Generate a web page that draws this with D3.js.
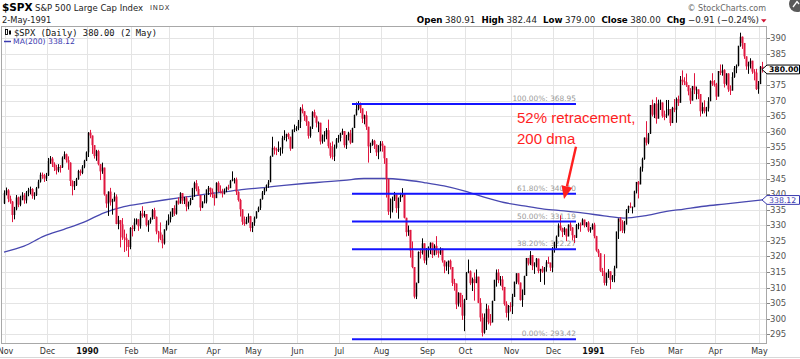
<!DOCTYPE html>
<html><head><meta charset="utf-8">
<script src="https://cdn.jsdelivr.net/npm/d3@7"></script>
<style>body{margin:0;background:#fff}svg{display:block}</style>
</head><body>
<svg id="c" width="800" height="359"></svg>
<script>
// ---------------- DATA ----------------
// Market holidays (non-trading weekdays) in the span
const holidays = ["1989-11-23","1989-12-25","1990-01-01","1990-02-19","1990-04-13","1990-05-28","1990-07-04","1990-09-03","1990-11-22","1990-12-25","1991-01-01","1991-02-18","1991-03-29"];
const firstDay = "1989-10-31", lastDay = "1991-05-02";
const monthNames = ["Jan","Feb","Mar","Apr","May","Jun","Jul","Aug","Sep","Oct","Nov","Dec"];

const opens = [337.0,
340.4,341.2,338.5,337.6,333.3,335.1,338.9,336.6,339.1,339.6,338.0,340.5,341.3,341.6,339.4,339.6,341.9,344.0,346.2,346.0,345.0,
346.0,350.6,351.4,349.6,348.6,347.6,348.7,348.6,351.7,352.8,350.9,350.1,344.2,342.5,342.8,344.8,347.4,346.8,348.8,350.7,
353.4,359.7,358.8,355.7,352.2,353.8,349.6,347.3,348.5,339.9,337.0,340.8,337.4,338.2,339.2,330.4,331.6,330.3,326.1,325.8,325.2,323.0,
329.1,328.8,330.9,331.9,329.7,333.8,333.0,333.6,330.1,331.0,332.0,334.9,332.7,328.0,327.7,325.7,324.2,328.7,330.3,
331.9,332.7,335.5,333.7,337.9,337.0,340.3,337.9,338.7,336.0,336.9,338.1,341.9,343.5,341.6,339.7,335.7,337.2,337.6,341.5,342.0,340.8,
339.9,338.7,343.6,341.1,340.7,340.1,341.4,342.1,341.9,344.3,344.7,344.7,340.7,338.1,335.1,331.1,330.4,332.0,332.9,329.1,
330.8,332.3,334.5,335.6,338.4,340.5,342.0,342.9,343.8,352.0,354.8,354.3,354.0,354.5,354.6,358.0,358.4,359.3,358.4,354.6,360.7,360.9,
361.2,363.2,367.4,366.6,365.0,363.2,358.7,361.6,366.3,364.9,362.9,362.9,356.9,358.5,359.1,360.5,355.4,352.3,352.1,355.1,357.6,
358.0,359.5,360.2,355.7,358.4,359.5,356.5,361.2,365.4,367.3,369.0,367.5,364.2,365.3,361.6,355.3,355.8,357.1,355.9,353.4,355.6,
356.2,355.5,351.5,344.9,334.4,334.8,338.4,339.9,335.5,338.8,339.4,340.1,332.4,327.8,328.5,321.9,316.6,307.1,311.5,321.4,321.3,324.2,318.7,
322.6,323.1,324.4,320.5,323.4,321.6,321.0,322.5,318.7,316.8,317.8,318.6,316.6,311.5,311.3,304.6,308.3,305.1,301.0,
306.1,314.9,315.2,311.4,312.7,311.5,313.5,305.1,300.4,295.5,300.0,303.2,298.9,298.8,305.7,312.5,314.8,312.4,312.6,310.2,304.7,301.9,304.1,
304.0,307.0,311.9,314.6,311.6,306.0,307.6,313.7,319.5,317.7,320.4,317.0,317.1,319.3,315.3,316.0,315.1,316.5,318.1,318.0,316.4,
322.2,324.1,326.4,329.9,329.1,327.8,328.9,326.4,330.2,329.3,326.8,326.0,330.1,330.2,330.1,331.8,329.9,330.9,328.3,328.7,
330.2,326.5,321.9,321.0,315.4,314.9,311.5,314.5,315.2,312.5,313.7,316.2,328.0,332.2,331.1,328.3,330.2,334.8,336.1,335.8,335.8,340.9,
343.9,343.1,348.3,351.3,358.1,356.5,359.4,368.6,365.5,369.0,364.2,369.1,369.4,365.1,365.0,365.7,367.3,362.8,367.7,
367.1,370.5,369.3,376.7,376.2,375.9,375.0,373.0,370.0,374.6,373.5,373.6,372.1,366.6,367.9,366.6,367.5,369.8,376.3,375.4,
375.2,371.3,379.5,378.9,379.8,375.4,378.7,373.6,373.2,377.6,380.4,381.2,387.6,390.5,388.5,384.2,381.0,381.8,382.8,379.3,379.0,373.7,
375.3,380.91];

const highs = [341.2,
342.1,341.6,339.5,337.8,335.9,339.7,339.2,339.5,340.6,340.3,341.0,342.0,342.4,341.9,340.6,342.3,344.6,346.9,346.9,346.5,346.8,
351.6,352.2,351.9,350.2,349.4,349.6,349.3,352.1,353.7,353.0,352.1,350.2,344.4,344.2,345.2,347.8,347.9,349.3,351.0,353.7,
359.9,360.6,358.8,355.7,354.2,354.2,349.6,350.1,348.5,339.9,340.9,342.0,338.5,340.5,339.9,333.0,331.7,332.3,328.6,327.3,325.3,329.4,
330.0,332.2,332.2,331.9,334.6,336.1,334.6,333.6,331.6,332.5,335.2,335.6,332.8,328.2,330.9,327.0,328.7,331.5,333.5,
334.4,335.5,336.4,337.9,338.9,340.6,340.3,339.1,339.3,337.6,338.8,342.0,344.0,344.5,342.5,339.7,337.7,339.7,341.5,342.6,342.1,341.8,
339.9,343.8,344.1,342.8,341.7,341.8,342.4,343.0,344.5,347.3,345.2,345.3,340.9,338.5,335.1,332.8,332.7,333.8,333.0,331.0,
332.8,334.5,336.0,338.5,341.0,342.0,343.1,344.5,352.3,358.4,355.3,354.9,356.9,355.0,358.7,360.5,359.4,359.7,358.4,360.7,362.3,361.8,
363.8,367.9,368.8,366.6,365.3,363.4,361.7,366.6,367.1,365.2,363.3,362.9,359.1,360.2,361.2,363.9,356.5,356.9,355.9,358.0,359.0,
359.7,361.0,360.2,359.0,360.0,360.6,361.3,365.5,369.4,369.8,369.4,367.5,365.5,366.6,361.6,356.5,357.6,357.4,355.9,355.7,357.0,
357.0,355.5,351.5,344.9,338.6,339.2,340.7,339.9,338.9,340.4,341.9,340.1,332.4,329.9,328.5,324.8,316.6,311.6,321.6,322.5,325.8,324.2,322.7,
323.2,324.5,324.4,323.9,326.5,322.0,322.9,322.5,318.7,318.3,318.7,319.0,316.6,312.8,311.3,308.5,308.3,307.6,306.4,
315.0,319.0,315.5,313.2,314.8,315.8,313.5,306.6,301.7,301.7,304.8,304.3,301.5,305.8,312.5,315.8,315.9,313.7,313.7,310.2,305.6,304.4,305.3,
308.0,311.9,314.6,314.6,311.6,309.4,313.8,319.5,319.5,321.7,320.4,318.1,319.5,319.3,316.0,316.9,316.6,318.8,319.9,318.0,323.0,
324.7,326.7,330.6,333.2,329.2,329.4,328.9,330.3,331.0,329.4,326.9,330.4,330.8,330.9,332.2,331.8,331.0,331.3,329.4,330.6,
330.8,326.6,322.4,321.0,316.3,320.7,314.8,315.9,315.2,314.0,317.0,328.0,332.2,332.6,331.6,331.4,335.2,336.3,337.3,336.0,341.1,343.9,
344.2,348.8,351.7,358.2,363.4,359.6,368.6,370.3,369.2,371.1,370.3,370.3,369.4,366.8,370.2,370.2,367.3,368.0,370.5,
371.0,371.6,377.9,379.7,377.5,378.7,375.0,374.0,374.7,378.8,374.5,373.6,372.1,369.4,370.1,368.0,371.1,376.5,378.8,376.6,
375.7,379.5,381.6,381.6,380.1,378.8,378.8,374.9,379.1,381.1,381.6,387.6,391.8,390.6,388.5,384.2,382.5,383.6,382.8,380.1,380.2,376.3,
381.1,382.44];

const lows = [336.8,
339.6,337.4,336.9,331.0,331.9,334.8,335.8,336.1,338.0,336.9,337.0,339.3,339.9,338.5,338.2,339.4,341.8,343.7,344.9,343.9,344.2,
345.8,349.7,348.7,347.4,346.3,347.0,346.9,348.4,351.2,350.1,347.8,342.6,339.6,341.3,342.6,344.6,345.9,346.4,348.3,350.6,
351.9,357.9,352.9,351.4,350.7,349.2,344.5,346.5,339.5,335.6,333.0,336.3,333.4,337.6,330.3,328.7,322.9,325.3,321.4,321.8,319.8,322.3,
326.4,328.1,330.2,328.2,328.9,332.4,332.5,329.6,327.9,330.5,331.8,332.0,327.1,324.5,325.2,322.6,323.8,328.3,330.0,
330.9,332.7,333.0,333.4,336.6,336.9,336.8,336.8,334.5,335.1,336.4,338.1,339.1,340.9,339.6,334.6,335.5,337.0,337.0,339.7,339.1,338.8,
336.3,338.7,340.6,340.2,338.9,339.9,340.6,341.3,341.9,344.1,343.4,339.7,337.6,332.8,330.1,329.8,330.3,330.8,328.0,327.8,
329.8,332.1,334.2,334.9,338.2,339.7,340.9,342.0,343.8,352.0,352.7,352.5,353.5,352.3,353.0,357.3,356.9,357.6,353.9,354.6,359.9,360.2,
360.5,361.2,365.9,363.5,361.9,357.8,358.1,360.9,364.5,361.4,359.9,355.9,356.2,356.8,357.6,354.7,351.5,351.1,350.6,354.6,356.5,
356.9,359.0,354.9,354.5,357.2,356.0,356.5,361.2,365.2,366.9,366.0,362.8,362.4,360.6,350.1,353.2,355.5,354.5,352.2,351.2,353.7,
353.6,349.7,338.9,333.3,332.2,334.1,337.8,334.0,332.1,337.5,339.0,332.2,326.4,326.6,319.6,316.2,306.5,306.3,311.4,319.3,320.6,317.8,317.3,
319.6,320.7,319.5,320.3,320.5,319.6,320.5,318.0,314.6,315.4,314.3,315.8,310.5,309.0,303.1,303.9,303.7,299.6,296.0,
306.0,314.6,310.8,308.9,305.8,311.4,305.0,299.1,294.3,295.2,296.4,298.2,297.8,298.8,305.7,310.3,311.4,310.6,309.1,304.2,300.4,299.4,302.3,
301.5,307.0,311.1,311.0,305.8,303.8,307.6,313.7,317.1,317.2,315.6,314.4,316.5,314.6,311.8,314.7,310.9,315.1,317.6,315.3,314.9,
321.2,322.6,326.3,328.3,326.2,326.9,324.9,326.4,328.2,325.2,324.3,325.9,328.7,327.9,330.0,329.3,329.4,327.8,327.6,328.6,
325.8,321.5,319.8,315.0,313.7,310.7,310.6,313.1,309.5,311.8,311.7,316.2,325.6,328.1,327.5,327.4,330.2,333.9,335.5,333.8,335.8,340.2,
338.6,343.1,347.2,351.0,355.6,356.0,359.3,364.9,364.4,362.6,364.2,367.0,364.5,363.7,364.4,365.2,361.9,362.8,366.3,
362.9,368.3,369.3,375.0,375.0,374.4,371.7,368.9,370.0,372.1,370.4,370.5,364.9,365.8,365.9,364.9,366.5,369.8,374.7,374.5,
370.2,371.3,378.2,378.0,374.2,374.9,372.8,371.8,373.2,377.3,378.8,381.0,387.3,386.6,383.4,379.9,378.6,380.3,378.6,376.5,373.4,372.2,
375.3,379.00];

const closes = [340.4,
341.2,338.5,337.6,333.3,335.1,338.9,336.6,339.1,339.6,338.0,340.5,341.3,341.6,339.4,339.6,341.9,344.0,346.2,346.0,345.0,346.0,
350.6,351.4,349.6,348.6,347.6,348.7,348.6,351.7,352.8,350.9,350.1,344.2,342.5,342.8,344.8,347.4,346.8,348.8,350.7,353.4,
359.7,358.8,355.7,352.2,353.8,349.6,347.3,348.5,339.9,337.0,340.8,337.4,338.2,339.2,330.4,331.6,330.3,326.1,325.8,325.2,323.0,329.1,
328.8,330.9,331.9,329.7,333.8,333.0,333.6,330.1,331.0,332.0,334.9,332.7,328.0,327.7,325.7,324.2,328.7,330.3,331.9,
332.7,335.5,333.7,337.9,337.0,340.3,337.9,338.7,336.0,336.9,338.1,341.9,343.5,341.6,339.7,335.7,337.2,337.6,341.5,342.0,340.8,339.9,
338.7,343.6,341.1,340.7,340.1,341.4,342.1,341.9,344.3,344.7,344.7,340.7,338.1,335.1,331.1,330.4,332.0,332.9,329.1,330.8,
332.3,334.5,335.6,338.4,340.5,342.0,342.9,343.8,352.0,354.8,354.3,354.0,354.5,354.6,358.0,358.4,359.3,358.4,354.6,360.7,360.9,361.2,
363.2,367.4,366.6,365.0,363.2,358.7,361.6,366.3,364.9,362.9,362.9,356.9,358.5,359.1,360.5,355.4,352.3,352.1,355.1,357.6,358.0,
359.5,360.2,355.7,358.4,359.5,356.5,361.2,365.4,367.3,369.0,367.5,364.2,365.3,361.6,355.3,355.8,357.1,355.9,353.4,355.6,356.2,
355.5,351.5,344.9,334.4,334.8,338.4,339.9,335.5,338.8,339.4,340.1,332.4,327.8,328.5,321.9,316.6,307.1,311.5,321.4,321.3,324.2,318.7,322.6,
323.1,324.4,320.5,323.4,321.6,321.0,322.5,318.7,316.8,317.8,318.6,316.6,311.5,311.3,304.6,308.3,305.1,301.0,306.1,
314.9,315.2,311.4,312.7,311.5,313.5,305.1,300.4,295.5,300.0,303.2,298.9,298.8,305.7,312.5,314.8,312.4,312.6,310.2,304.7,301.9,304.1,304.0,
307.0,311.9,314.6,311.6,306.0,307.6,313.7,319.5,317.7,320.4,317.0,317.1,319.3,315.3,316.0,315.1,316.5,318.1,318.0,316.4,322.2,
324.1,326.4,329.9,329.1,327.8,328.9,326.4,330.2,329.3,326.8,326.0,330.1,330.2,330.1,331.8,329.9,330.9,328.3,328.7,330.2,
326.5,321.9,321.0,315.4,314.9,311.5,314.5,315.2,312.5,313.7,316.2,328.0,332.2,331.1,328.3,330.2,334.8,336.1,335.8,335.8,340.9,343.9,
343.1,348.3,351.3,358.1,356.5,359.4,368.6,365.5,369.0,364.2,369.1,369.4,365.1,365.0,365.7,367.3,362.8,367.7,367.1,
370.5,369.3,376.7,376.2,375.9,375.0,373.0,370.0,374.6,373.5,373.6,372.1,366.6,367.9,366.6,367.5,369.8,376.3,375.4,375.2,
371.3,379.5,378.9,379.8,375.4,378.7,373.6,373.2,377.6,380.4,381.2,387.6,390.5,388.5,384.2,381.0,381.8,382.8,379.3,379.0,373.7,375.3,
380.91,380.00];

// 200-day moving average
const maDates = ["1989-10-31","1989-11-14","1989-11-29","1989-12-13","1989-12-28","1990-01-12","1990-01-26","1990-02-09","1990-02-26","1990-03-12","1990-03-26","1990-04-09","1990-04-24","1990-05-08","1990-05-22","1990-06-06","1990-06-20","1990-07-05","1990-07-19","1990-08-02","1990-08-16","1990-08-30","1990-09-14","1990-09-28","1990-10-12","1990-10-26","1990-11-09","1990-11-26","1990-12-10","1990-12-24","1991-01-09","1991-01-23","1991-02-06","1991-02-21","1991-03-07","1991-03-21","1991-04-05","1991-04-19","1991-05-02"];
const maValues = [321.4,323.3,326.5,328.7,331.0,334.0,336.0,337.1,338.1,339.0,339.9,340.7,341.5,342.1,342.8,343.4,343.9,344.4,345.0,345.0,344.6,343.7,342.6,341.0,339.0,337.3,336.2,335.2,334.6,333.9,333.0,332.3,333.0,334.3,335.2,336.1,336.8,337.5,338.12];

// Fibonacci retracement
const fibPercents = [100, 61.8, 50, 38.2, 0];
const fibValues = [368.95, 340.10, 331.19, 322.27, 293.42];
const fibStart = "1990-07-11", fibEnd = "1990-12-18";

const priceTicks = [295,300,305,310,315,320,325,330,335,340,345,350,355,360,365,370,375,380,385,390];

// annotation anchored in data space
const noteLines = ["52% retracement,", "200 dma"];
const noteAnchor = ["1990-11-05", 362.8];
const arrowFrom = ["1990-12-18", 355.2];
const arrowTo = ["1990-12-10", 338.4];

// ---------------- BUILD ----------------
const fmtD = d3.utcFormat("%Y-%m-%d");
const dates = d3.utcDays(new Date(firstDay+"T00:00Z"), new Date(lastDay+"T00:00Z"), 1)
  .concat([new Date(lastDay+"T00:00Z")])
  .filter(d => d.getUTCDay()!==0 && d.getUTCDay()!==6 && !holidays.includes(fmtD(d)))
  .map(fmtD);

const RED = "#e0163f";
const BLUE_FIB = "#1414ff";
const MA_COL = "#4848b0";
const SANS = "'DejaVu Sans', Verdana, sans-serif";
const ARIAL = "'Liberation Sans', Arial, sans-serif";

const L = 2, R = 767, T = 27, B = 344;
const x = d3.scalePoint().domain(dates).range([4, 762]);
const y = d3.scaleLinear().domain([295, 390]).range([334.3, 38.3]);

const svg = d3.select("#c");
svg.append("rect").attr("width",800).attr("height",359).attr("fill","#fff");
svg.append("defs").append("clipPath").attr("id","clip")
  .append("rect").attr("x",L).attr("y",T).attr("width",R-L).attr("height",B-T);

const bars = dates.map((d,i)=>({d, o:opens[i], h:highs[i], l:lows[i], c:closes[i]}));
const lastI = closes.length-1;
const lastMA = maValues[maValues.length-1];

// grid
const grid = svg.append("g").attr("shape-rendering","crispEdges");
grid.selectAll("line.h").data(priceTicks).join("line")
  .attr("x1",L).attr("x2",R).attr("y1",v=>Math.round(y(v))+0.5).attr("y2",v=>Math.round(y(v))+0.5)
  .attr("stroke","#e4e4e4");
const monthStarts = dates.filter((d,i)=> i>0 && d.slice(5,7)!==dates[i-1].slice(5,7));
grid.selectAll("line.v").data(monthStarts).join("line")
  .attr("x1",d=>Math.round(x(d))-0.5).attr("x2",d=>Math.round(x(d))-0.5)
  .attr("y1",T).attr("y2",B).attr("stroke","#e4e4e4");

const plot = svg.append("g").attr("clip-path","url(#clip)");

// fib labels (behind candles)
const f2 = d3.format(".2f");
plot.selectAll("text.fib").data(fibPercents).join("text")
  .attr("x", x(fibEnd)).attr("y",(p,i)=>y(fibValues[i])-3)
  .attr("text-anchor","end").attr("font-family",SANS).attr("font-size",7.4)
  .attr("fill","#9a9a9a")
  .text((p,i)=>f2(p)+"%: "+f2(fibValues[i]));

// MA line
const ma = maDates.map((d,i)=>({d, v:maValues[i]}));
plot.append("path").datum(ma)
  .attr("d", d3.line().x(p=>x(p.d)).y(p=>y(p.v)).curve(d3.curveMonotoneX))
  .attr("fill","none").attr("stroke",MA_COL).attr("stroke-width",1.3);

// candles
plot.selectAll("rect.body").data(bars).join("rect")
  .attr("x", b=>x(b.d)-0.5).attr("width",2)
  .attr("y", b=>y(Math.max(b.o,b.c)))
  .attr("height", b=>Math.max(1, y(Math.min(b.o,b.c))-y(Math.max(b.o,b.c))))
  .attr("fill", b=> b.c>=b.o ? "#8c8c8c" : RED);
plot.selectAll("line.wick").data(bars).join("line")
  .attr("x1", b=>x(b.d)+0.5).attr("x2", b=>x(b.d)+0.5)
  .attr("y1", b=>y(Math.max(b.h,b.o,b.c))).attr("y2", b=>y(Math.min(b.l,b.o,b.c)))
  .attr("stroke", b=> b.c>=b.o ? "#000" : RED).attr("stroke-width",1);

// fib lines
plot.selectAll("line.fib").data(fibValues).join("line")
  .attr("x1", x(fibStart)).attr("x2", x(fibEnd))
  .attr("y1", v=>y(v)).attr("y2", v=>y(v))
  .attr("stroke",BLUE_FIB).attr("stroke-width",2);

// annotation
const NOTE = "#ff1f1f";
svg.append("g").selectAll("text").data(noteLines).join("text")
  .attr("x", x(noteAnchor[0])+1).attr("y",(t,i)=>y(noteAnchor[1])+i*21)
  .attr("font-family",ARIAL).attr("font-size",15).attr("fill",NOTE).text(t=>t);
{
  const x0=x(arrowFrom[0]), y0=y(arrowFrom[1]), x1=x(arrowTo[0]), y1=y(arrowTo[1]);
  const ang=Math.atan2(y1-y0,x1-x0), hl=13, hw=5.5;
  const bx=x1-hl*Math.cos(ang), by=y1-hl*Math.sin(ang);
  svg.append("line").attr("x1",x0).attr("y1",y0).attr("x2",bx).attr("y2",by)
    .attr("stroke",NOTE).attr("stroke-width",2.4);
  const px=-Math.sin(ang), py=Math.cos(ang);
  svg.append("path").attr("d",`M${x1},${y1}L${bx+px*hw},${by+py*hw}L${bx-px*hw},${by-py*hw}Z`)
    .attr("fill",NOTE);
}

// frame
svg.append("rect").attr("x",L-0.5).attr("y",T-0.5).attr("width",R-L).attr("height",B-T)
  .attr("fill","none").attr("stroke","#a8a8a8").attr("shape-rendering","crispEdges");
svg.append("line").attr("x1",0).attr("x2",800).attr("y1",357.5).attr("y2",357.5)
  .attr("stroke","#d8d8d8");

// right axis (labels fully covered by the last-price tag are not drawn)
const ax = svg.append("g");
ax.selectAll("line").data(priceTicks).join("line")
  .attr("x1",R).attr("x2",R+3).attr("y1",v=>Math.round(y(v))+0.5).attr("y2",v=>Math.round(y(v))+0.5)
  .attr("stroke","#888").attr("shape-rendering","crispEdges");
ax.selectAll("text").data(priceTicks.filter(v=>Math.abs(y(v)-y(closes[lastI]))>5)).join("text")
  .attr("x",R+3).attr("y",v=>y(v)+3).attr("font-family",SANS).attr("font-size",8.5)
  .attr("fill","#555").text(v=>v);

// bottom axis labels
const xl = svg.append("g");
xl.selectAll("text").data(monthStarts).join("text")
  .attr("x",d=>x(d)-0.5).attr("y",354.3).attr("text-anchor","middle")
  .attr("font-family",SANS).attr("font-size",8)
  .attr("font-weight",d=>d.slice(5,7)==="01"?"bold":"normal")
  .attr("fill",d=>d.slice(5,7)==="01"?"#111":"#333")
  .text(d=>d.slice(5,7)==="01" ? d.slice(0,4) : monthNames[+d.slice(5,7)-1]);

// value tags
function tag(v, col, bold){
  const yv=y(v), hh=4.4;
  svg.append("path").attr("d",`M${R-5},${yv}L${R},${yv-hh}L799.5,${yv-hh}L799.5,${yv+hh}L${R},${yv+hh}Z`)
    .attr("fill","#fff").attr("stroke",col).attr("stroke-width",1);
  svg.append("text").attr("x",R+2).attr("y",yv+3).attr("font-family",SANS)
    .attr("font-size",bold?7.7:7.8).attr("font-weight",bold?"bold":"normal")
    .attr("fill",col).text(f2(v));
}
tag(closes[lastI], "#000", true);
tag(lastMA, "#3a3ab0", false);

// header
svg.append("text").attr("x",2).attr("y",10.5).attr("font-family",SANS).attr("font-weight","bold")
  .attr("font-size",10.5).attr("fill","#000").text("$SPX");
svg.append("text").attr("x",35).attr("y",10.5).attr("font-family",SANS).attr("font-size",8.5)
  .attr("fill","#222").text("S&P 500 Large Cap Index");
svg.append("text").attr("x",150).attr("y",10.3).attr("font-family",SANS).attr("font-size",6.8)
  .attr("letter-spacing",0.8).attr("fill","#333").text("INDX");
svg.append("text").attr("x",2).attr("y",23).attr("font-family",SANS).attr("font-size",8.3)
  .attr("fill","#222").text("2-May-1991");
svg.append("text").attr("x",766).attr("y",10.5).attr("text-anchor","end").attr("font-family",SANS)
  .attr("font-size",8).attr("fill","#666").text("\u00A9 StockCharts.com");

const chg = closes[lastI]-closes[lastI-1];
const ohlc = [["Open",f2(opens[lastI])],["High",f2(highs[lastI])],["Low",f2(lows[lastI])],["Close",f2(closes[lastI])],
  ["Chg", f2(chg)+" ("+f2(chg/closes[lastI-1]*100)+"%)"]];
const ot = svg.append("text").attr("x",759).attr("y",23).attr("text-anchor","end")
  .attr("font-family",SANS).attr("font-size",8.7).attr("fill","#222");
ohlc.forEach((p,i)=>{
  ot.append("tspan").attr("font-weight","bold").attr("fill","#000").attr("dx",i?6:0).text(p[0]);
  ot.append("tspan").attr("dx",2.5).text(p[1]);
});
svg.append("path").attr("d","M761,19.2L766.5,19.2L763.75,22.5Z").attr("fill","#d01030");
svg.append("circle").attr("cx",797).attr("cy",4).attr("r",8).attr("fill","#5a5a5a");
svg.append("path").attr("d","M793,7L797,1.5L799,4").attr("stroke","#fff").attr("fill","none").attr("stroke-width",1.3);

// legend
const lg = svg.append("g");
lg.append("rect").attr("x",5.5).attr("y",29.5).attr("width",2).attr("height",5).attr("fill","none").attr("stroke","#000").attr("stroke-width",0.9);
lg.append("rect").attr("x",9).attr("y",30.5).attr("width",2).attr("height",4).attr("fill","#000");
lg.append("text").attr("x",14).attr("y",35.6).attr("font-family","'DejaVu Sans Mono', monospace")
  .attr("font-size",8.8).attr("fill","#111")
  .text("$SPX (Daily) "+f2(closes[lastI])+" (2 May)");
lg.append("line").attr("x1",4).attr("x2",11).attr("y1",41.5).attr("y2",41.5).attr("stroke","#3a3ab0").attr("stroke-width",1.5);
lg.append("text").attr("x",13).attr("y",44.3).attr("font-family",SANS).attr("font-size",7.7)
  .attr("fill","#3a3ab0").text("MA(200) "+f2(lastMA));

if (dates.length!==closes.length) console.error("length mismatch", dates.length, closes.length);
</script>
</body></html>
